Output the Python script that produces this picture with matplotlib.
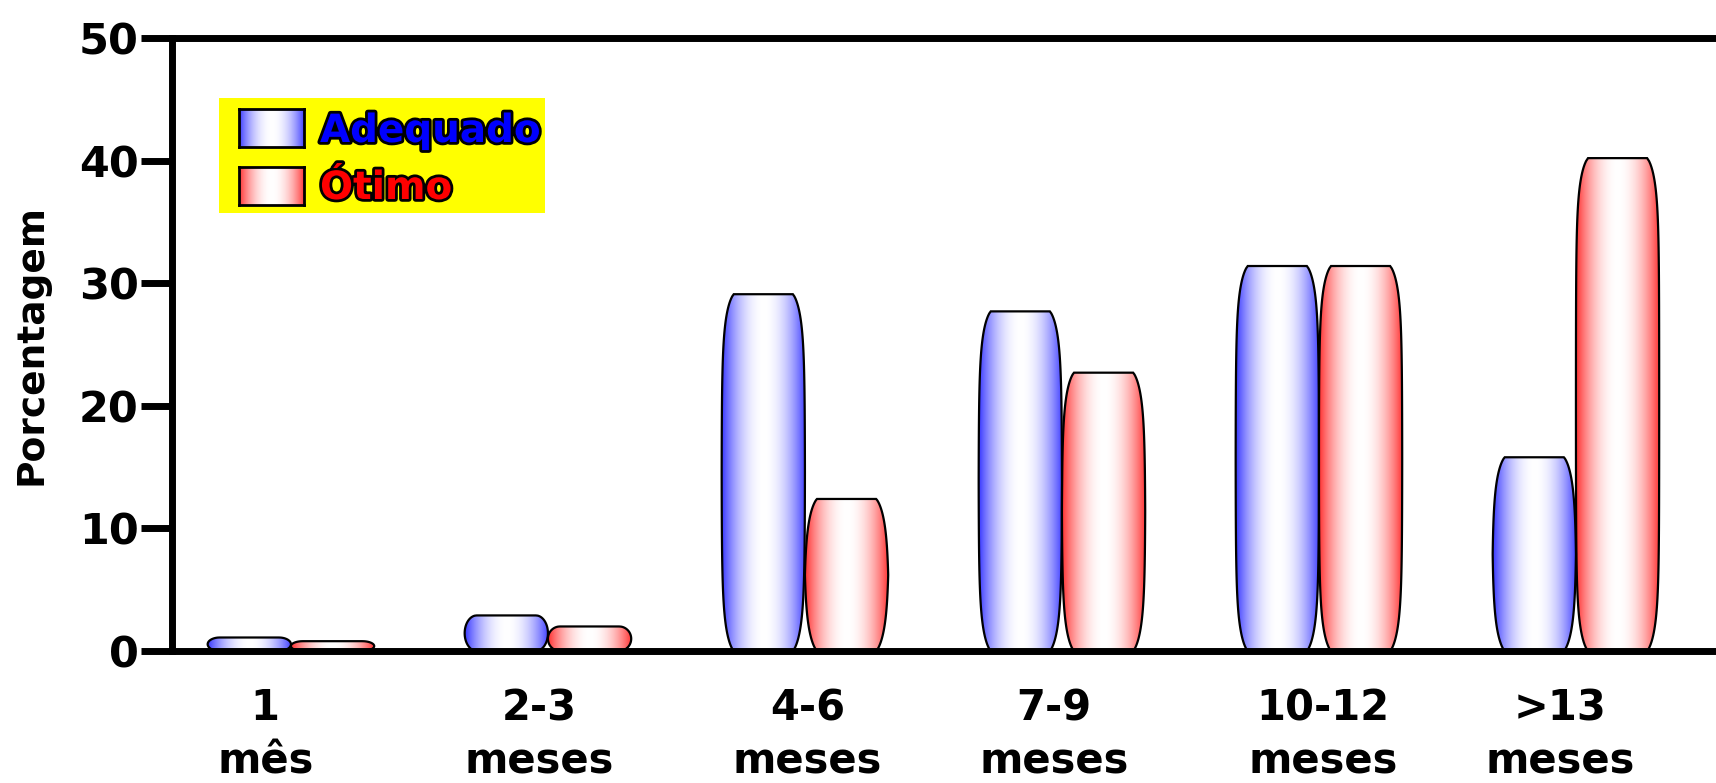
import numpy as np
import matplotlib
matplotlib.use('Agg')
import matplotlib.pyplot as plt
from matplotlib.path import Path
from matplotlib.patches import PathPatch, Rectangle
import matplotlib.patheffects as pe

# Percentages per age group
categorias = ['1\nmês', '2-3\nmeses', '4-6\nmeses', '7-9\nmeses', '10-12\nmeses', '>13\nmeses']
adequado = [1.1, 2.9, 29.1, 27.7, 31.4, 15.8]
otimo = [0.8, 2.0, 12.4, 22.7, 31.4, 40.2]
yticks = [0, 10, 20, 30, 40, 50]

plt.rcParams['font.family'] = 'DejaVu Sans'
plt.rcParams['font.weight'] = 'bold'

AZUL = np.array([60, 60, 255]) / 255
VERMELHO = np.array([255, 50, 50]) / 255


def gradiente(cor, n=200):
    # colour at the edges, white in the middle
    u = np.linspace(0, 1, n)
    w = np.abs(2 * u - 1) ** 2
    rgb = (1 - w)[:, None] * np.ones(3) + w[:, None] * cor
    return rgb[None, :, :]


def barril(xc, w, h, rx=0.047, ly=1.96, n=160):
    # bar outline whose sides curve in towards the top and bottom
    y = np.linspace(0, h, n)
    d = np.minimum(y, h - y)
    dmax = h / 2
    f = np.exp(-(d / ly) ** 0.83)
    fmin = np.exp(-(dmax / ly) ** 0.83)
    curva = (f - fmin) / (1 - fmin)
    # short bars get plain rounded (elliptic) ends
    elipse = 1 - np.sqrt(1 - np.clip(1 - d / dmax, 0, 1) ** 2)
    t = np.clip((dmax - 1.5) / 2, 0, 1)
    inset = rx * ((1 - t) * elipse + t * curva)
    esq = np.column_stack([xc - w / 2 + inset, y])
    dir_ = np.column_stack([xc + w / 2 - inset[::-1], y[::-1]])
    verts = np.vstack([esq, dir_, esq[:1]])
    return Path(verts, closed=True)


fig = plt.figure(figsize=(17.16, 7.83), dpi=100)
ax = fig.add_axes([0.1002, 0.1686, 0.8998, 0.7829])

largura = 0.324
x = np.arange(len(categorias))

for serie, cor, desloc in [(adequado, AZUL, -largura / 2), (otimo, VERMELHO, largura / 2)]:
    for xi, v in zip(x, serie):
        xc = xi + desloc
        patch = PathPatch(barril(xc, largura, v), facecolor='none',
                          edgecolor='black', lw=1.6, zorder=3)
        ax.add_patch(patch)
        im = ax.imshow(gradiente(cor), extent=[xc - largura / 2, xc + largura / 2, 0, v],
                       aspect='auto', zorder=2, interpolation='bilinear')
        im.set_clip_path(patch)

ax.set_xlim(-0.463, 5.545)
ax.set_ylim(0, 50)

# category labels sit a little off the group centres
ajuste = [-0.10, -0.035, 0.01, -0.03, 0.015, -0.06]
ax.set_xticks(x + np.array(ajuste))
ax.set_xticklabels(categorias, fontsize=30, fontweight='bold', linespacing=1.36)
ax.set_yticks(yticks)
ax.set_yticklabels([str(t) for t in yticks], fontsize=31, fontweight='bold')
ax.tick_params(axis='x', length=0, pad=26)
ax.tick_params(axis='y', length=22, width=5, pad=2)

ax.spines['right'].set_visible(False)
for lado in ['left', 'top', 'bottom']:
    ax.spines[lado].set_linewidth(5)

ax.set_ylabel('Porcentagem', fontsize=27, fontweight='bold')
ax.yaxis.set_label_coords(-0.079, 0.5)

# legend box
ax.add_patch(Rectangle((0.0304, 0.7145), 0.2112, 0.1875, transform=ax.transAxes,
                       facecolor='#ffff00', edgecolor='none', zorder=5))
for cor, y0 in [(AZUL, 0.8123), (VERMELHO, 0.738)]:
    sw = fig.add_axes([0.139, y0, 0.0379, 0.0485])
    sw.imshow(gradiente(cor), aspect='auto', interpolation='bilinear')
    sw.set_xticks([])
    sw.set_yticks([])
    for s in sw.spines.values():
        s.set_linewidth(2)

contorno = [pe.withStroke(linewidth=4, foreground='black')]
fig.text(320 / 1716, 1 - 131 / 783, 'Adequado', color='#0000ff', fontsize=28,
         fontweight='bold', va='center', ha='left', path_effects=contorno)
fig.text(320 / 1716, 1 - 188 / 783, 'Ótimo', color='#ff0000', fontsize=28,
         fontweight='bold', va='center', ha='left', path_effects=contorno)

fig.savefig('out.png', dpi=100)
